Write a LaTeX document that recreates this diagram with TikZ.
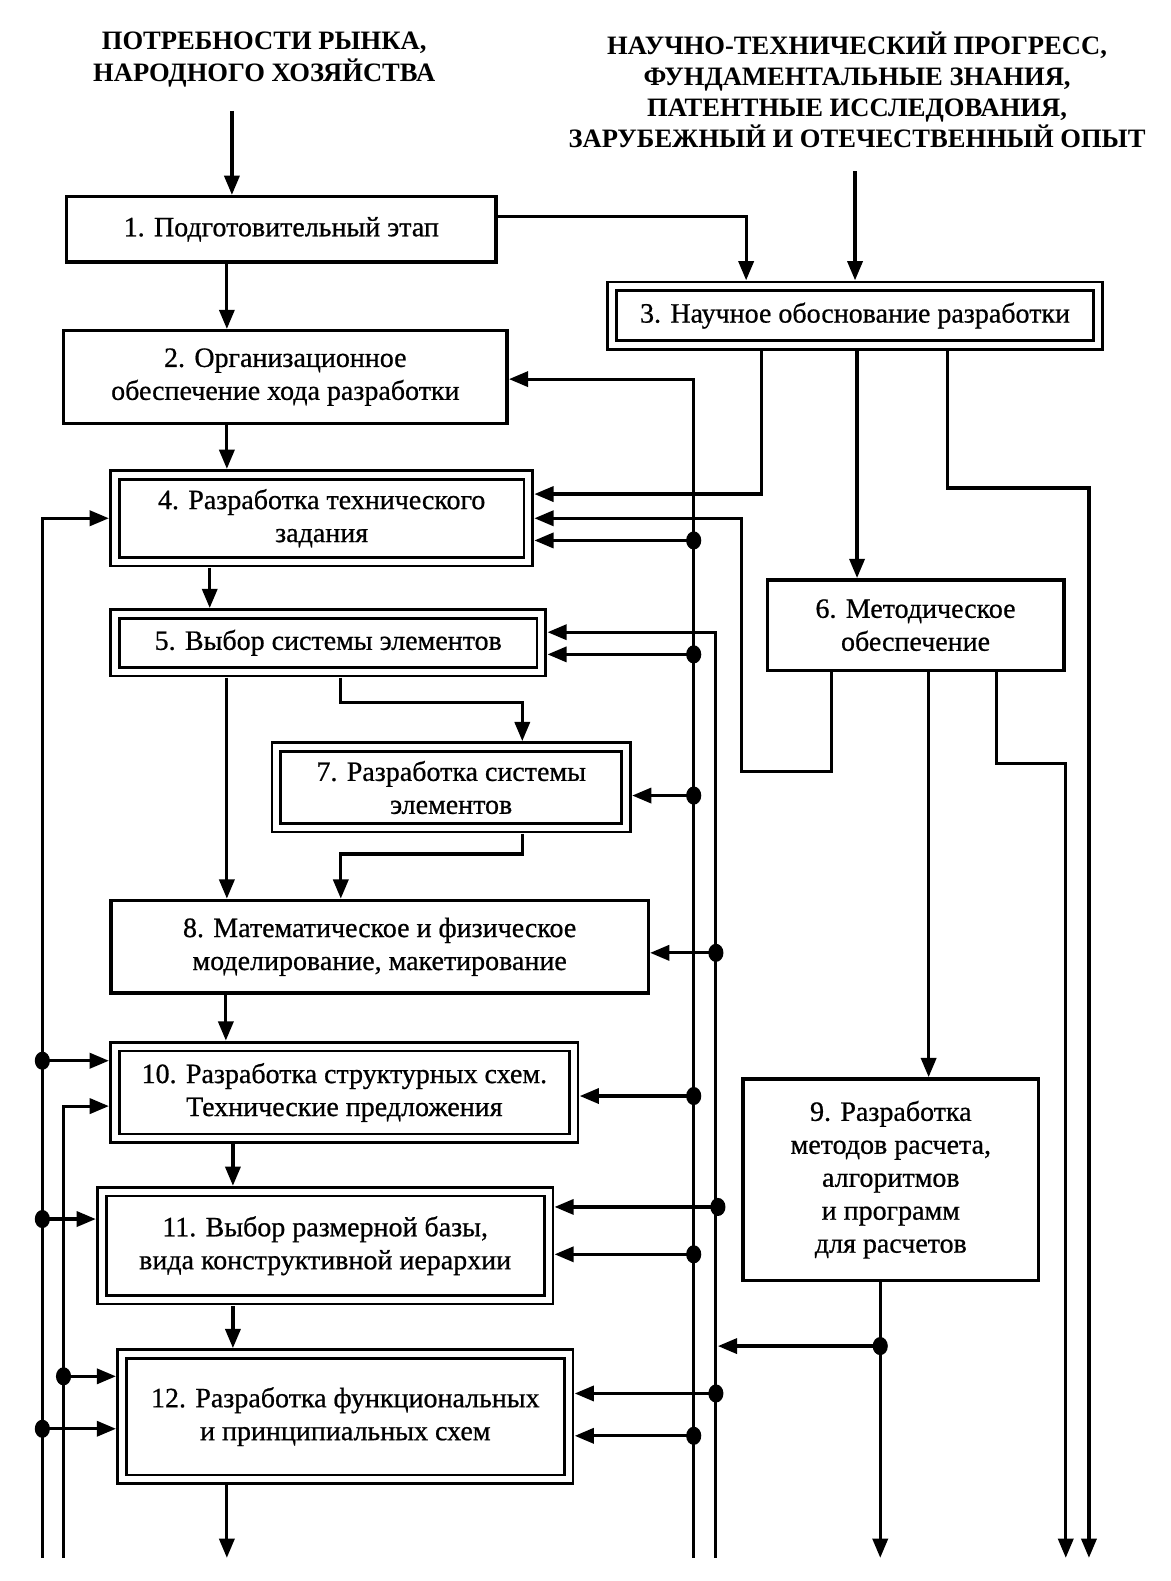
\documentclass[tikz,border=0pt]{standalone}
\usepackage{fontspec}
\setmainfont{Liberation Serif}
\newfontfamily\heavyfam{Liberation Serif}[RawFeature={embolden=0.7}]
\usetikzlibrary{arrows.meta}
\newcommand{\boxfont}{\heavyfam\fontsize{15.8}{18.6}\selectfont}
\newcommand{\hdrfont}{\fontsize{15}{17.6}\selectfont\bfseries}
\tikzset{
 arr/.style={line width=1.8pt,-{Triangle[length=0.38cm,width=0.3cm]}},
 sbox/.style={draw,line width=2pt,align=center,inner sep=0pt,font=\boxfont},
 dbox/.style={draw,line width=1.5pt,double,double distance=3.4pt,align=center,inner sep=0pt,outer sep=0.12cm,font=\boxfont},
 hdr/.style={align=center,font=\hdrfont,inner sep=0pt}
}
\newcommand{\mkbox}[7]{%
 \pgfmathsetmacro{\bcx}{(#3+#5)/2}%
 \pgfmathsetmacro{\bcy}{(#4+#6)/2}%
 \pgfmathsetmacro{\bw}{(#5-#3)*0.02}%
 \pgfmathsetmacro{\bh}{(#6-#4)*0.02}%
 \node[#2,minimum width=\bw cm,minimum height=\bh cm] (#1) at (\bcx,\bcy) {#7};}
\newcommand{\mkdbox}[7]{%
 \pgfmathsetmacro{\bcx}{(#3+#5)/2}%
 \pgfmathsetmacro{\bcy}{(#4+#6)/2}%
 \pgfmathsetmacro{\bw}{(#5-#3-12)*0.02}%
 \pgfmathsetmacro{\bh}{(#6-#4-12)*0.02}%
 \node[#2,minimum width=\bw cm,minimum height=\bh cm] (#1) at (\bcx,\bcy) {#7};}
\newcommand{\jdot}[3]{\coordinate (#1) at (#2,#3); \fill (#1) ellipse [x radius=0.15cm, y radius=0.18cm];}
\begin{document}
\begin{tikzpicture}[x=0.02cm,y=-0.02cm]
\useasboundingbox (0,0) rectangle (1161,1568);
% headers
\node[hdr] (hL) at (262,59) {ПОТРЕБНОСТИ РЫНКА,\\НАРОДНОГО ХОЗЯЙСТВА};
\node[hdr] (hR) at (850,89) {НАУЧНО-ТЕХНИЧЕСКИЙ ПРОГРЕСС,\\ФУНДАМЕНТАЛЬНЫЕ ЗНАНИЯ,\\ПАТЕНТНЫЕ ИССЛЕДОВАНИЯ,\\ЗАРУБЕЖНЫЙ И ОТЕЧЕСТВЕННЫЙ ОПЫТ};
% boxes
\mkbox{b1}{sbox}{66}{195}{492}{260}{1. Подготовительный этап}
\mkbox{b2}{sbox}{63}{328}{503}{420}{2. Организационное\\обеспечение хода разработки}
\mkdbox{b3}{dbox}{601}{278}{1095}{348}{3. Научное обоснование разработки}
\mkdbox{b4}{dbox}{108}{465}{530}{563}{4. Разработка технического\\задания}
\mkdbox{b5}{dbox}{108}{603}{543}{672}{5. Выбор системы элементов}
\mkbox{b6}{sbox}{761}{575}{1055}{665}{6. Методическое\\обеспечение}
\mkdbox{b7}{dbox}{268}{735}{627}{827}{7. Разработка системы\\элементов}
\mkbox{b8}{sbox}{110}{893}{643}{985}{8. Математическое и физическое\\моделирование, макетирование}
\mkbox{b9}{sbox}{737}{1070}{1030}{1270}{9. Разработка\\методов расчета,\\алгоритмов\\и программ\\для расчетов}
\mkdbox{b10}{dbox}{108}{1032}{575}{1135}{10. Разработка структурных схем.\\Технические предложения}
\mkdbox{b11}{dbox}{95}{1176}{550}{1295}{11. Выбор размерной базы,\\вида конструктивной иерархии}
\mkdbox{b12}{dbox}{115}{1337}{570}{1473}{12. Разработка функциональных\\и принципиальных схем}
% top inputs
\coordinate (cL) at (230,110);
\draw[arr] (cL) -- (cL |- b1.north);
\coordinate (cR) at (848,170);
\draw[arr] (cR) -- (cR |- b3.north);
\coordinate (k13) at (740,215);
\draw[arr] (b1.east |- k13) -- (k13) -- (k13 |- b3.north);
\draw[arr] (225,0 |- b1.south) -- (225,0 |- b2.north);
\draw[arr] (225,0 |- b2.south) -- (225,0 |- b4.north);
% outputs of 3
\coordinate (k34) at (755,490);
\draw[arr] (k34 |- b3.south) -- (k34) -- (k34 -| b4.east);
\draw[arr] (850,0 |- b3.south) -- (850,0 |- b6.north);
\coordinate (k3a) at (940,484); \coordinate (k3b) at (1080,484); \coordinate (e1080) at (1080,1545);
\draw[arr] (k3a |- b3.south) -- (k3a) -- (k3b) -- (e1080);
% outputs of 6
\coordinate (k64a) at (825,765); \coordinate (k64b) at (735,765); \coordinate (k64c) at (735,514);
\draw[arr] (k64a |- b6.south) -- (k64a) -- (k64b) -- (k64c) -- (k64c -| b4.east);
\draw[arr] (921,0 |- b6.south) -- (921,0 |- b9.north);
\coordinate (k6a) at (988,757); \coordinate (k6b) at (1057,757); \coordinate (e1057) at (1057,1545);
\draw[arr] (k6a |- b6.south) -- (k6a) -- (k6b) -- (e1057);
% output of 9
\coordinate (e873) at (873,1545);
\draw[arr] (e873 |- b9.south) -- (e873);
% bus 688
\coordinate (t688) at (688,376); \coordinate (e688) at (688,1545);
\draw[arr] (e688) -- (t688) -- (t688 -| b2.east);
% bus 710
\coordinate (t710) at (710,627); \coordinate (e710) at (710,1545);
\draw[arr] (e710) -- (t710) -- (t710 -| b5.east);
% bus 42
\coordinate (t42) at (42,514); \coordinate (e42) at (42,1545);
\draw[arr] (e42) -- (t42) -- (t42 -| b4.west);
% bus 63
\coordinate (t63) at (63,1097); \coordinate (e63) at (63,1545);
\draw[arr] (e63) -- (t63) -- (t63 -| b10.west);
% dots and branches
\jdot{d4}{688}{536} \draw[arr] (d4) -- (d4 -| b4.east);
\jdot{d5}{688}{649} \draw[arr] (d5) -- (d5 -| b5.east);
\jdot{d7}{688}{789} \draw[arr] (d7) -- (d7 -| b7.east);
\jdot{d10}{688}{1087} \draw[arr] (d10) -- (d10 -| b10.east);
\jdot{d11}{688}{1244} \draw[arr] (d11) -- (d11 -| b11.east);
\jdot{d12}{688}{1424} \draw[arr] (d12) -- (d12 -| b12.east);
\jdot{f8}{710}{945} \draw[arr] (f8) -- (f8 -| b8.east);
\jdot{f11}{712}{1197} \draw[arr] (f11) -- (f11 -| b11.east);
\jdot{f12}{710}{1382} \draw[arr] (f12) -- (f12 -| b12.east);
\jdot{d9}{873}{1335} \draw[arr] (d9) -- ([xshift=0.04cm]d9 -| e710);
\jdot{g10}{42}{1052} \draw[arr] (g10) -- (g10 -| b10.west);
\jdot{g11}{42}{1209} \draw[arr] (g11) -- (g11 -| b11.west);
\jdot{g12}{42}{1417} \draw[arr] (g12) -- (g12 -| b12.west);
\jdot{h12}{63}{1365} \draw[arr] (h12) -- (h12 -| b12.west);
% box chain
\draw[arr] (208,0 |- b4.south) -- (208,0 |- b5.north);
\draw[arr] (225,0 |- b5.south) -- (225,0 |- b8.north);
\coordinate (k57a) at (338,697); \coordinate (k57b) at (518,697);
\draw[arr] (k57a |- b5.south) -- (k57a) -- (k57b) -- (k57b |- b7.north);
\coordinate (k78a) at (518,847); \coordinate (k78b) at (338,847);
\draw[arr] (k78a |- b7.south) -- (k78a) -- (k78b) -- (k78b |- b8.north);
\draw[arr] (224,0 |- b8.south) -- (224,0 |- b10.north);
\draw[arr] (231,0 |- b10.south) -- (231,0 |- b11.north);
\draw[arr] (231,0 |- b11.south) -- (231,0 |- b12.north);
\coordinate (e225) at (225,1545);
\draw[arr] (225,0 |- b12.south) -- (e225);
\end{tikzpicture}
\end{document}
